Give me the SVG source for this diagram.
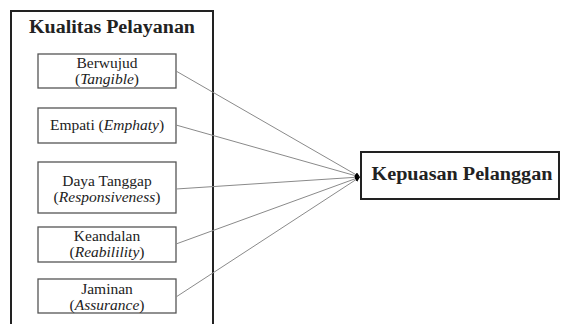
<svg xmlns="http://www.w3.org/2000/svg" width="561" height="324" viewBox="0 0 561 324">
<defs>
<style>
text{font-family:'Liberation Serif','Tinos','DejaVu Serif',serif;fill:#222;text-anchor:middle}
.s{font-size:15.5px}
.b{font-size:18px;font-weight:bold}
.box{fill:#fff;stroke:#555;stroke-width:1.3}
.big{fill:#fff;stroke:#222;stroke-width:2}
.c{stroke:#8a8a8a;stroke-width:1;fill:none}
</style>
<marker id="ah" viewBox="0 0 6 6" refX="6" refY="3" markerWidth="5" markerHeight="5" markerUnits="userSpaceOnUse" orient="auto">
<path d="M0,0 L6,3 L0,6 Z" fill="#000"/>
</marker>
</defs>
<rect width="561" height="324" fill="#fff"/>
<g id="kualitas">
<rect class="big" x="11" y="11" width="202" height="320"/>
<text class="b" x="112" y="33" textLength="166" lengthAdjust="spacingAndGlyphs">Kualitas Pelayanan</text>
</g>
<g id="berwujud">
<rect class="box" x="38" y="54" width="138" height="34"/>
<text class="s" x="107" y="68">Berwujud</text>
<text class="s" x="107" y="84">(<tspan font-style="italic">Tangible</tspan>)</text>
</g>
<g id="empati">
<rect class="box" x="38" y="108" width="138" height="35"/>
<text class="s" x="107" y="130">Empati (<tspan font-style="italic">Emphaty</tspan>)</text>
</g>
<g id="daya">
<rect class="box" x="38" y="162" width="138" height="51"/>
<text class="s" x="107" y="186">Daya Tanggap</text>
<text class="s" x="107" y="202">(<tspan font-style="italic">Responsiveness</tspan>)</text>
</g>
<g id="keandalan">
<rect class="box" x="38" y="227" width="138" height="35"/>
<text class="s" x="107" y="241">Keandalan</text>
<text class="s" x="107" y="257">(<tspan font-style="italic">Reabilility</tspan>)</text>
</g>
<g id="jaminan">
<rect class="box" x="38" y="279" width="138" height="34"/>
<text class="s" x="107" y="294">Jaminan</text>
<text class="s" x="107" y="310">(<tspan font-style="italic">Assurance</tspan>)</text>
</g>
<g id="kepuasan">
<rect class="big" x="361" y="152" width="198" height="47"/>
<text class="b" x="462" y="180" textLength="181" lengthAdjust="spacingAndGlyphs">Kepuasan Pelanggan</text>
</g>
<g id="connectors">
<line class="c" x1="176" y1="71" x2="360" y2="177" marker-end="url(#ah)"/>
<line class="c" x1="176" y1="125" x2="360" y2="177" marker-end="url(#ah)"/>
<line class="c" x1="176" y1="189" x2="360" y2="177" marker-end="url(#ah)"/>
<line class="c" x1="176" y1="244" x2="360" y2="177" marker-end="url(#ah)"/>
<line class="c" x1="176" y1="297" x2="360" y2="177" marker-end="url(#ah)"/>
</g>
</svg>
